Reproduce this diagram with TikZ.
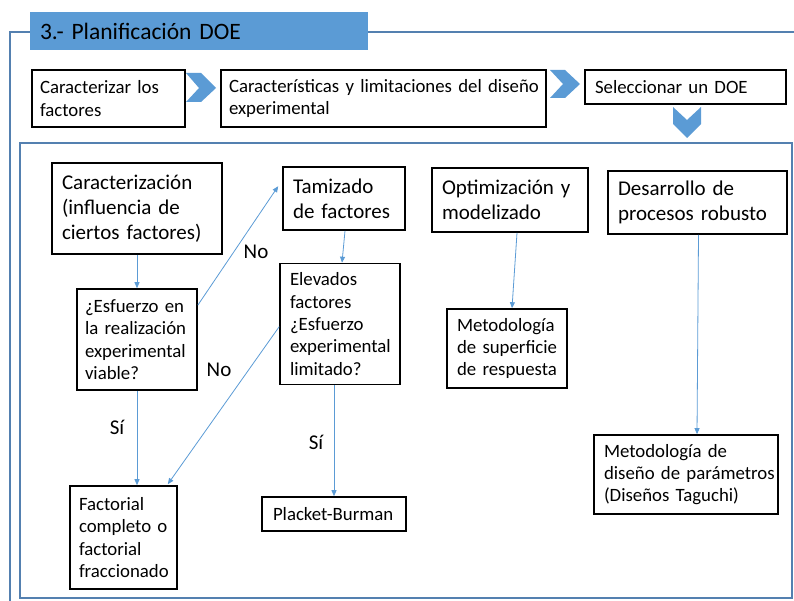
\documentclass[tikz,border=0pt]{standalone}
\usepackage{fontspec}
\setmainfont{Carlito}
\usetikzlibrary{arrows.meta,calc}
\definecolor{accent}{RGB}{91,155,213}
\definecolor{framec}{RGB}{84,128,176}
\newcommand\fsA{\fontsize{18.8}{22.4}\selectfont\hyphenpenalty=10000\exhyphenpenalty=10000}
\newcommand\fsB{\fontsize{21}{25}\selectfont\hyphenpenalty=10000\exhyphenpenalty=10000}
\newcommand\fsT{\fontsize{23.5}{28}\selectfont}
\tikzset{
  bx/.style={draw=black, line width=1.6pt, align=left, inner ysep=0pt, anchor=center},
  conn/.style={draw=accent, line width=0.8pt, -{Triangle[length=6pt,width=5pt]}},
  frameline/.style={draw=framec, line width=1.2pt},
  chev/.style={fill=accent, draw=none},
  lbl/.style={font=\fsB, inner sep=0pt}
}
\begin{document}
\begin{tikzpicture}[x=1pt,y=-1pt]
\useasboundingbox (0,0) rectangle (794,601);
% outer frame
\coordinate (o1) at (30,32);
\coordinate (o0) at (10,32);
\coordinate (ob) at (10,603);
\coordinate (o2) at (368,32);
\coordinate (o3) at (796,32);
\draw[frameline] (ob) -- (o0) -- (o1);
\draw[frameline] (o2) -- (o3);
% inner frame
\draw[frameline] (20,143) rectangle (792,598);
% title
\node[fill=accent, draw=none, minimum width=338, minimum height=38, inner xsep=10, text width=318, align=left, font=\fsT, inner ysep=0pt] (T) at (199,31) {3.-~Planificación~DOE};
% top row
\node[bx, font=\fsA, minimum width=153, minimum height=57, inner xsep=8, text width=137] (a1) at (108.5,98.5) {Caracterizar~los\\factores};
\node[bx, font=\fsA, minimum width=325, minimum height=57, inner xsep=8, text width=309] (a2) at (383.5,98.5) {Características~y~limitaciones~del~diseño\\experimental};
\node[bx, font=\fsA, minimum width=201, minimum height=34, inner xsep=10, text width=181] (a3) at (685.5,87) {Seleccionar~un~DOE};
% chevrons
\fill[chev] (186,73) -- (201,73) -- (216,88) -- (201,102) -- (186,102) -- (199,88) -- cycle;
\fill[chev] (550,70) -- (565,70) -- (580,84) -- (565,98) -- (550,98) -- (563,84) -- cycle;
\fill[chev] (673,107) -- (687,120) -- (701,107) -- (701,124) -- (687,138) -- (673,124) -- cycle;
% inner boxes
\node[bx, font=\fsB, minimum width=170, minimum height=91, inner xsep=10, text width=150] (b1) at (137,208.5) {Caracterización\\(influencia~de\\ciertos~factores)};
\node[bx, font=\fsA, minimum width=120, minimum height=101, inner xsep=8, text width=104] (b2) at (137,339.5) {¿Esfuerzo~en\\la~realización\\experimental\\viable?};
\node[bx, font=\fsB, minimum width=122, minimum height=63, inner xsep=10, text width=102] (b3) at (344,198.5) {Tamizado\\de~factores};
\node[bx, font=\fsA, minimum width=120, minimum height=121, inner xsep=10, text width=100] (b4) at (340,324) {Elevados\\factores\\¿Esfuerzo\\experimental\\limitado?};
\node[bx, font=\fsB, minimum width=156, minimum height=64, inner xsep=10, text width=136] (b5) at (510,200) {Optimización~y\\modelizado};
\node[bx, font=\fsB, minimum width=179, minimum height=63, inner xsep=10, text width=159] (b6) at (697.5,202.5) {Desarrollo~de\\procesos~robusto};
\node[bx, font=\fsA, minimum width=120, minimum height=79, inner xsep=10, text width=100] (b7) at (507,348.5) {Metodología\\de~superficie\\de~respuesta};
\node[bx, font=\fsA, minimum width=184, minimum height=79, inner xsep=10, text width=164] (b8) at (686,474.5) {Metodología~de\\diseño~de~parámetros\\(Diseños~Taguchi)};
\node[bx, font=\fsA, minimum width=107, minimum height=103, inner xsep=9, text width=89] (b9) at (123.5,537.5) {Factorial\\completo~o\\factorial\\fraccionado};
\node[bx, font=\fsA, minimum width=144, minimum height=34, inner xsep=11, text width=122] (b10) at (334,514) {Placket-Burman};
% connectors
\draw[conn] (b1.south) -- (b2.north);
\draw[conn] ($(b2.north east)+(0,17)$) -- ($(b3.north west)+(-4,20)$);
\draw[conn] ($(b3.south)+(1,0)$) -- ($(b4.north)+(2,0)$);
\draw[conn] (b2.south) -- (b2.south |- b9.north);
\draw[conn] ($(b4.north west)+(0,64)$) -- ($(b9.north east)+(-10,-1)$);
\draw[conn] (b10.north |- b4.south) -- (b10.north);
\draw[conn] ($(b5.south)+(7,0)$) -- ($(b7.north)+(5,0)$);
\draw[conn] ($(b6.south)+(1,0)$) -- ($(b8.north)+(11,0)$);
% labels
\node[lbl] (n1) at (256,252) {No};
\node[lbl] (n2) at (219,370) {No};
\node[lbl] (s1) at (117,427) {Sí};
\node[lbl] (s2) at (316,442) {Sí};
\end{tikzpicture}
\end{document}
